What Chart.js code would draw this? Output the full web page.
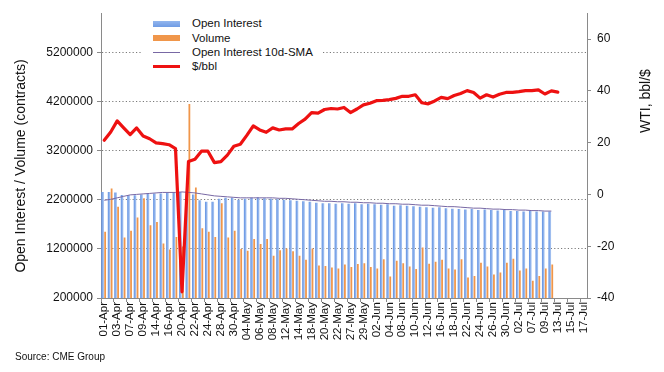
<!DOCTYPE html>
<html>
<head>
<meta charset="utf-8">
<script src="https://cdn.jsdelivr.net/npm/chart.js@4.4.1/dist/chart.umd.min.js"></script>
<style>
html,body{margin:0;padding:0;background:#fff;}
#wrap{position:relative;width:664px;height:372px;font-family:'Liberation Sans',Arial,Helvetica,sans-serif;color:#111;overflow:hidden;}
#c{position:absolute;left:0;top:0;}
#legend{position:absolute;left:141px;top:12px;width:182px;height:63px;background:#fff;}
.row{position:absolute;left:0;height:14px;width:182px;}
.sw{position:absolute;left:12px;width:27px;}
.lt{position:absolute;left:51px;top:0;font-size:11.5px;line-height:14px;white-space:nowrap;color:#111;}
.vt{position:absolute;font-size:14px;line-height:16px;white-space:nowrap;text-align:center;color:#111;transform:rotate(-90deg);transform-origin:50% 50%;}
#src{position:absolute;left:15px;top:351px;font-size:10px;line-height:12px;color:#111;white-space:nowrap;}
</style>
</head>
<body>
<div id="wrap">
<canvas id="c" width="664" height="372"></canvas>
<div id="legend">
  <div class="row" style="top:4px"><div class="sw" style="top:5px;height:6px;background:linear-gradient(#93b6ee,#6f9be4)"></div><div class="lt">Open Interest</div></div>
  <div class="row" style="top:19px"><div class="sw" style="top:4px;height:6px;background:#f0964a"></div><div class="lt">Volume</div></div>
  <div class="row" style="top:33px"><div class="sw" style="top:7px;height:1px;background:#7868a4"></div><div class="lt">Open Interest 10d-SMA</div></div>
  <div class="row" style="top:47px"><div class="sw" style="top:6px;height:3px;background:#ee1111"></div><div class="lt">$/bbl</div></div>
</div>
<div class="vt" style="left:-130px;top:158px;width:300px;">Open Interest / Volume (contracts)</div>
<div class="vt" style="left:585px;top:93px;width:120px;">WTI, bbl/$</div>
<div id="src">Source: CME Group</div>
</div>
<script>
const categories = ["01-Apr","02-Apr","03-Apr","06-Apr","07-Apr","08-Apr","09-Apr","13-Apr","14-Apr","15-Apr","16-Apr","17-Apr","20-Apr","21-Apr","22-Apr","23-Apr","24-Apr","27-Apr","28-Apr","29-Apr","30-Apr",
"01-May","04-May","05-May","06-May","07-May","08-May","11-May","12-May","13-May","14-May","15-May","18-May","19-May","20-May","21-May","22-May","26-May","27-May","28-May","29-May",
"01-Jun","02-Jun","03-Jun","04-Jun","05-Jun","08-Jun","09-Jun","10-Jun","11-Jun","12-Jun","15-Jun","16-Jun","17-Jun","18-Jun","19-Jun","22-Jun","23-Jun","24-Jun","25-Jun","26-Jun","29-Jun","30-Jun",
"01-Jul","02-Jul","06-Jul","07-Jul","08-Jul","09-Jul","10-Jul","13-Jul","14-Jul","15-Jul","16-Jul","17-Jul"];

const openInterest = [2360000,2360000,2350000,2300000,2290000,2290000,2310000,2330000,2330000,2330000,2340000,2350000,2360000,2370000,2310000,2190000,2160000,2160000,2220000,2240000,2240000,
2200000,2220000,2240000,2250000,2230000,2220000,2210000,2200000,2190000,2180000,2170000,2160000,2140000,2130000,2130000,2120000,2130000,2120000,2130000,2110000,
2120000,2110000,2100000,2110000,2080000,2090000,2080000,2070000,2060000,2050000,2040000,2050000,2030000,2020000,2010000,2000000,2010000,1990000,2000000,1990000,1980000,1990000,
1970000,1970000,1960000,1970000,1960000,1960000,1960000,null,null,null,null,null];

const volume = [1550000,2430000,2060000,1430000,1570000,1840000,2230000,1680000,1750000,1310000,1190000,1440000,1250000,4150000,2450000,1620000,1550000,1440000,2130000,1430000,1570000,
1200000,1160000,1400000,1300000,1400000,1060000,1170000,1210000,1150000,1060000,980000,1210000,860000,850000,820000,800000,880000,830000,890000,910000,
830000,800000,990000,640000,960000,910000,840000,790000,1230000,900000,940000,980000,800000,780000,990000,620000,650000,920000,840000,680000,720000,920000,
1000000,760000,800000,550000,650000,800000,880000,null,null,null,null,null];

const oiSMA = [2190000,2210000,2240000,2270000,2300000,2310000,2320000,2330000,2340000,2350000,2350000,2350000,2360000,2350000,2340000,2320000,2300000,2280000,2270000,2260000,2250000,
2240000,2240000,2240000,2240000,2240000,2240000,2230000,2230000,2220000,2210000,2200000,2190000,2180000,2170000,2170000,2160000,2160000,2150000,2150000,2140000,
2140000,2130000,2130000,2120000,2120000,2110000,2110000,2100000,2090000,2090000,2080000,2070000,2060000,2060000,2050000,2040000,2030000,2030000,2020000,2010000,2010000,2000000,
2000000,1990000,1990000,1980000,1980000,1970000,1970000,null,null,null,null,null];

const wtiPrice = [20.9,24.1,28.4,25.7,23.1,25.7,22.6,21.5,19.9,19.6,19.2,17.7,-37.6,12.7,13.6,16.7,16.7,12.3,12.7,15.2,18.6,
19.4,22.8,26.5,24.9,24.0,25.7,24.9,25.3,25.3,27.4,29.1,31.6,31.4,32.8,33.2,33.0,33.6,31.6,33.0,34.6,
35.2,36.2,36.3,36.6,37.1,37.9,37.9,38.5,35.4,35.0,36.1,37.5,37.0,38.2,39.0,40.1,39.4,37.2,38.5,37.6,38.7,39.4,
39.4,39.7,40.1,40.1,40.4,38.8,40.0,39.5,null,null,null,null];

const leftTicks = [200000,1200000,2200000,3200000,4200000,5200000];
const rightTicks = [-40,-20,0,20,40,60];

const FONT = "'Liberation Sans', Arial, Helvetica, sans-serif";
const AREA = {left:101, right:587, top:9, bottom:298, width:664, height:372};
const OI_BAR_PCT = 0.82;

// Excel-like horizontal gradient for each open-interest column
function oiFill(c) {
  const chart = c.chart, xs = chart.scales && chart.scales.x;
  if (c.type !== 'data' || !xs || !xs.width) return '#86aeea';
  const cx = xs.getPixelForValue(c.dataIndex);
  const half = xs.width / categories.length * OI_BAR_PCT / 2;
  const g = chart.ctx.createLinearGradient(cx - half, 0, cx + half, 0);
  g.addColorStop(0, '#6796e4');
  g.addColorStop(0.5, '#b9d0f4');
  g.addColorStop(1, '#6796e4');
  return g;
}

new Chart(document.getElementById('c'), {
  type: 'bar',
  data: {
    labels: categories,
    datasets: [
      {type:'line', label:'$/bbl', data: wtiPrice, yAxisID:'y2', xAxisID:'x', borderColor:'#ee1111', backgroundColor:'#ee1111', borderWidth:3.2, pointRadius:0, tension:0, borderJoinStyle:'round', borderCapStyle:'round', order:0},
      {type:'line', label:'Open Interest 10d-SMA', data: oiSMA, yAxisID:'y', xAxisID:'x', borderColor:'#7868a4', borderWidth:1, pointRadius:0, tension:0, order:1},
      {type:'bar', label:'', data: categories.map(() => null), yAxisID:'y', xAxisID:'x2', backgroundColor:'rgba(0,0,0,0)', borderWidth:0, barPercentage:1, categoryPercentage:1.1, order:1.5},
      {type:'bar', label:'Volume', data: volume, yAxisID:'y', xAxisID:'x2', backgroundColor:'#f0964a', borderWidth:0, barPercentage:1, categoryPercentage:1.1, order:2},
      {type:'bar', label:'Open Interest', data: openInterest, yAxisID:'y', xAxisID:'x', backgroundColor: oiFill, borderWidth:0, barPercentage:OI_BAR_PCT, categoryPercentage:1, order:3}
    ]
  },
  options: {
    responsive:false, animation:false, devicePixelRatio:1,
    layout:{padding:{top:AREA.top, left:0, right:0, bottom:0}},
    plugins:{legend:{display:false}, tooltip:{enabled:false}, title:{display:false}},
    scales:{
      x:{
        type:'category', offset:true,
        grid:{display:true, drawOnChartArea:false, drawTicks:true, tickLength:4, offset:true,
              color: c => (c.index % 2 === 0 ? '#8a8a8a' : 'rgba(0,0,0,0)')},
        border:{display:true, color:'#8a8a8a', width:1},
        ticks:{autoSkip:false, maxRotation:90, minRotation:90, padding:0, color:'#111',
               font:{family:FONT, size:11.5},
               callback:(v,i) => (i % 2 === 0 ? categories[i] : '')},
        afterFit: s => { s.height = AREA.height - AREA.bottom; }
      },
      x2:{
        type:'category', offset:true, display:false
      },
      y:{
        position:'left', min:200000, max:6000000,
        afterBuildTicks: s => { s.ticks = leftTicks.map(v => ({value:v})); },
        grid:{display:true, drawOnChartArea:true, color:'#7a7a7a', lineWidth:1, tickLength:4, tickColor:'#8a8a8a'},
        border:{display:true, color:'#8a8a8a', width:1, dash:[1.2,2.2]},
        ticks:{color:'#111', padding:4, font:{family:FONT, size:12}, callback: v => String(v)},
        afterFit: s => { s.width = AREA.left; }
      },
      y2:{
        position:'right', min:-40, max:70,
        afterBuildTicks: s => { s.ticks = rightTicks.map(v => ({value:v})); },
        grid:{display:true, drawOnChartArea:false, tickLength:4, color:'#8a8a8a'},
        border:{display:true, color:'#8a8a8a', width:1},
        ticks:{color:'#111', padding:6, font:{family:FONT, size:12}, callback: v => String(v)},
        afterFit: s => { s.width = AREA.width - AREA.right; }
      }
    }
  }
});
</script>
</body>
</html>
